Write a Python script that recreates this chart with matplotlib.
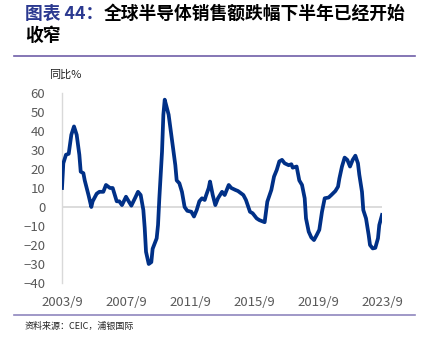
import matplotlib
matplotlib.use("Agg")
import matplotlib.pyplot as plt
import pandas as pd

plt.rcParams['font.family'] = ['Noto Sans CJK SC', 'DejaVu Sans']

# global semiconductor sales, yoy %, month offsets counted from 2003/9
months = [0, 1, 3, 5, 7, 9, 11, 13, 14, 16, 17, 20, 22, 23, 26, 28, 31, 33, 36, 38,
          41, 43, 45, 48, 50, 52, 55, 57, 59, 61, 62, 63, 65, 67, 68, 71, 72, 73, 75, 76,
          77, 78, 80, 82, 85, 86, 88, 90, 92, 94, 97, 99, 101, 103, 105, 107, 108, 110, 111, 113,
          115, 117, 120, 122, 125, 127, 130, 132, 136, 138, 141, 143, 146, 148, 152, 154, 157, 159, 161, 163,
          165, 167, 170, 172, 173, 176, 178, 180, 182, 183, 185, 187, 189, 191, 193, 195, 197, 200, 202, 205,
          207, 208, 210, 212, 214, 216, 218, 220, 222, 223, 225, 226, 228, 230, 231, 233, 235, 237, 238, 240]
yoy = [10, 23, 27.5, 28, 38, 42.4, 38, 27.5, 18.6, 17.8, 14, 6, 0, 3, 7, 8, 8, 11.6, 10, 10,
       3, 3, 1, 5.4, 3, 0.7, 5, 8, 6.3, -1.6, -11, -23.6, -30, -29, -22, -16.5, -9.5, 4.6, 29, 48.6,
       56.5, 54, 48.6, 38, 22, 14, 12.5, 8, 0, -2, -2.5, -5, -1.6, 3, 4.6, 3.7, 6, 10, 13.4, 6.3,
       1, 4.6, 8, 6.3, 11.6, 10, 9, 8.4, 6.3, 3.7, -2.5, -3.3, -6, -6.9, -8, 2.8, 9, 16, 19.5, 24,
       24.8, 23, 22, 22.5, 20.7, 21.3, 14, 11.6, 4.6, -6, -13, -16, -17.4, -14.8, -12, -2.5, 4.6, 5, 6.3, 8.4,
       10.7, 15, 21.3, 26, 24.8, 21.3, 24.8, 27, 23, 17, 8, -1.6, -6, -14.8, -20, -21.8, -21.5, -16.5, -9.5, -4.2]

start = pd.Timestamp("2003-09-01")
dates = [start + pd.DateOffset(months=m) for m in months]
tick_labels = ["2003/9", "2007/9", "2011/9", "2015/9", "2019/9", "2023/9"]
tick_dates = [pd.Timestamp(t.replace("/", "-") + "-01") for t in tick_labels]
yticks = list(range(-40, 61, 10))

fig = plt.figure(figsize=(4.22, 3.40), dpi=100)
ax = fig.add_axes([62 / 422, 57 / 340, 320 / 422, 190 / 340])

ax.axhline(0, color="#d9d9d9", lw=1.3, zorder=1)
ax.plot(dates, yoy, color="#003087", lw=2.7, solid_joinstyle="round", zorder=3)

ax.set_xlim(start, pd.Timestamp("2023-09-01"))
ax.set_ylim(-40, 60)
ax.set_yticks(yticks)
ax.set_xticks(tick_dates)
ax.set_xticklabels(tick_labels)

for s in ["top", "right", "bottom"]:
    ax.spines[s].set_visible(False)
ax.spines["left"].set_color("#d9d9d9")
ax.spines["left"].set_linewidth(1.0)
ax.tick_params(length=0, labelsize=9.5, colors="#595959", labelcolor="#595959")
ax.tick_params(axis="y", pad=12)
ax.tick_params(axis="x", pad=9)

fig.text(49 / 422, 1 - 75 / 340, "同比%", fontsize=8, va="center", ha="left", color="#222222")

# title: coloured prefix, black remainder placed right after it
t1 = fig.text(25 / 422, 1 - 14 / 340, "图表 44：", fontsize=12.8, fontweight="bold",
              color="#2b3990", va="center", ha="left")
fig.canvas.draw()
bb = t1.get_window_extent(renderer=fig.canvas.get_renderer())
fig.text(bb.x1 / fig.bbox.width, 1 - 14 / 340, "全球半导体销售额跌幅下半年已经开始",
         fontsize=12.8, fontweight="bold", color="black", va="center", ha="left")
fig.text(25 / 422, 1 - 36 / 340, "收窄", fontsize=12.8, fontweight="bold",
         color="black", va="center", ha="left")

fig.add_artist(plt.Line2D([14 / 422, 415 / 422], [1 - 56 / 340] * 2,
                          color="#6f5fa8", lw=1.2))
fig.add_artist(plt.Line2D([14 / 422, 415 / 422], [1 - 315 / 340] * 2,
                          color="#8f86bd", lw=1.2))
fig.text(25 / 422, 1 - 326 / 340, "资料来源：CEIC，浦银国际", fontsize=6.5,
         va="center", ha="left", color="#222222")

fig.savefig("out.png", dpi=100)
